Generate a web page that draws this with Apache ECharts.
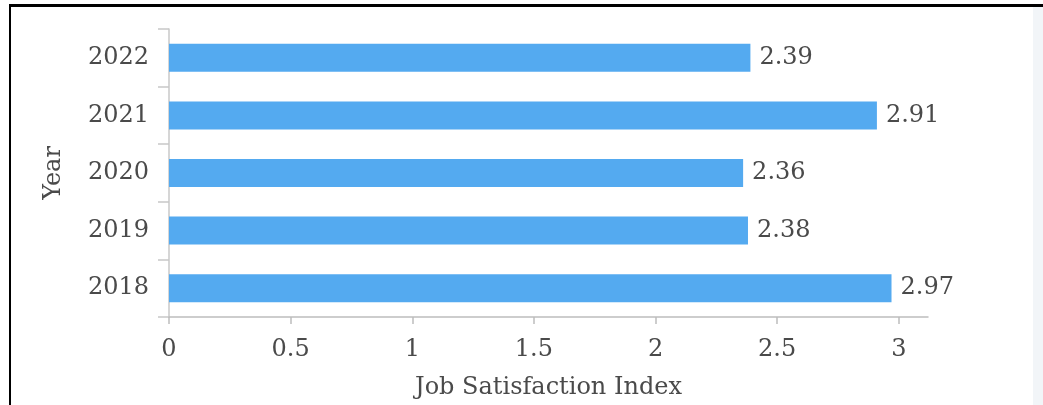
<!DOCTYPE html>
<html>
<head>
<meta charset="utf-8">
<script src="https://cdn.jsdelivr.net/npm/echarts@6/dist/echarts.min.js"></script>
<style>
  html, body { margin: 0; padding: 0; background: #ffffff; }
  #wrap { position: relative; width: 1043px; height: 405px; overflow: hidden; background: #fff; }
  #frame { position: absolute; left: 9px; top: 4px; width: 1040px; height: 410px;
           border-top: 3px solid #000; border-left: 2px solid #000; box-sizing: border-box; }
  #strip { position: absolute; left: 1033px; top: 7px; width: 10px; height: 398px; background: #f2f5f8; }
  #chart { position: absolute; left: 0; top: 0; width: 1043px; height: 405px; }
</style>
</head>
<body>
<div id="wrap">
  <div id="strip"></div>
  <div id="chart"></div>
  <div id="frame"></div>
</div>
<script>
const years = ['2018', '2019', '2020', '2021', '2022'];
const satisfaction = [2.97, 2.38, 2.36, 2.91, 2.39];
const xTicks = [0, 0.5, 1, 1.5, 2, 2.5, 3];
const xAxisTitle = 'Job Satisfaction Index';
const yAxisTitle = 'Year';

const FONT = '"DejaVu Serif", serif';
const TXT = '#4a4a4a';
const chart = echarts.init(document.getElementById('chart'), null, { renderer: 'canvas' });
chart.setOption({
  animation: false,
  backgroundColor: 'transparent',
  grid: { left: 169, right: 115, top: 29, bottom: 86, containLabel: false },
  xAxis: {
    type: 'value',
    min: 0,
    max: 3.12,
    name: xAxisTitle,
    nameLocation: 'middle',
    nameGap: 59,
    nameTextStyle: { fontFamily: FONT, fontSize: 24, color: TXT },
    axisLine: { show: true, lineStyle: { color: '#bdbdbd', width: 1.5 } },
    axisTick: { show: true, length: 7, lineStyle: { color: '#bdbdbd', width: 1.5 }, customValues: xTicks },
    axisLabel: { fontFamily: FONT, fontSize: 24, color: TXT, margin: 21, customValues: xTicks },
    splitLine: { show: false }
  },
  yAxis: {
    type: 'category',
    data: years,
    name: yAxisTitle,
    nameLocation: 'middle',
    nameGap: 103,
    nameTextStyle: { fontFamily: FONT, fontSize: 24, color: TXT },
    axisLine: { show: true, lineStyle: { color: '#c8c8c8', width: 1.5 } },
    axisTick: { show: true, length: 11, lineStyle: { color: '#c8c8c8', width: 1.5 } },
    axisLabel: { fontFamily: FONT, fontSize: 24, color: TXT, margin: 20 },
    splitLine: { show: false }
  },
  series: [{
    type: 'bar',
    data: satisfaction,
    barWidth: 28,
    itemStyle: { color: '#54aaf0' },
    label: {
      show: true,
      position: 'right',
      distance: 9,
      fontFamily: FONT,
      fontSize: 24,
      color: TXT
    }
  }]
});
</script>
</body>
</html>
